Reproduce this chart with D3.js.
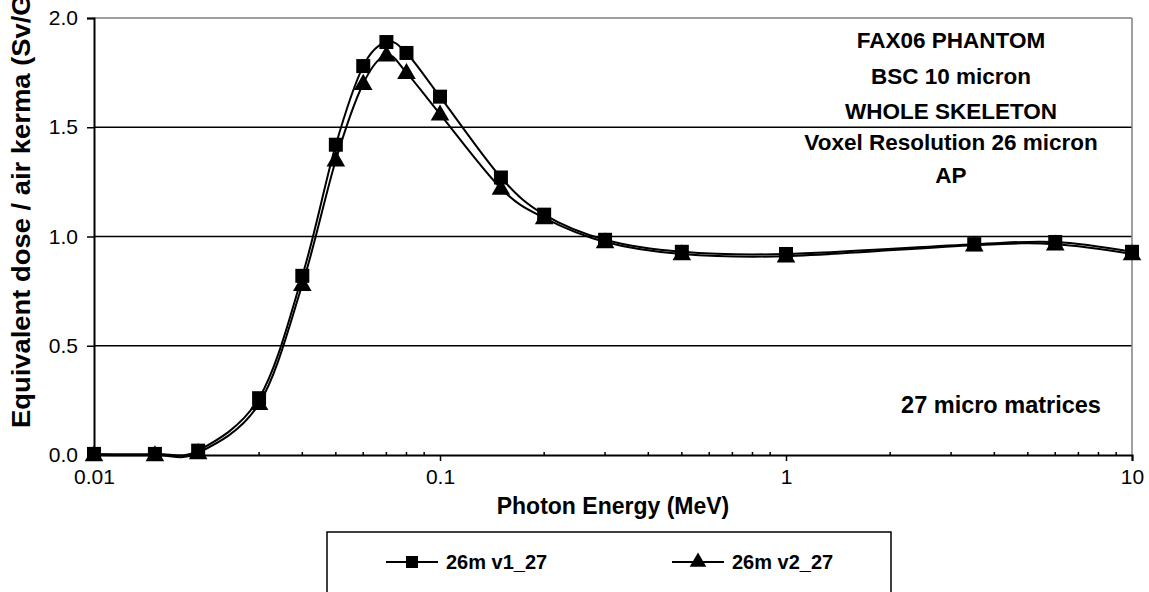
<!DOCTYPE html>
<html>
<head>
<meta charset="utf-8">
<script src="https://cdn.jsdelivr.net/npm/d3@7"></script>
<style>
  body { margin: 0; background: #fff; }
  svg text { font-family: "Liberation Sans", Arial, sans-serif; fill: #000; }
</style>
</head>
<body>
<div class="chart"></div>
<script>
// Données
const energies = [0.01, 0.015, 0.02, 0.03, 0.04, 0.05, 0.06, 0.07, 0.08, 0.1, 0.15, 0.2, 0.3, 0.5, 1, 3.5, 6, 10];
const v1 = [0.005, 0.005, 0.02, 0.26, 0.82, 1.42, 1.78, 1.89, 1.84, 1.64, 1.27, 1.10, 0.985, 0.93, 0.92, 0.965, 0.975, 0.93];
const v2 = [0.0, 0.0, 0.01, 0.235, 0.78, 1.35, 1.70, 1.83, 1.75, 1.56, 1.22, 1.085, 0.975, 0.92, 0.91, 0.96, 0.965, 0.92];
const seriesNames = ["26m v1_27", "26m v2_27"];
const yTicks = [0, 0.5, 1.0, 1.5, 2.0];
const xTicks = [0.01, 0.1, 1, 10];
const notes = ["FAX06 PHANTOM", "BSC 10 micron", "WHOLE SKELETON", "Voxel Resolution 26 micron", "AP"];

const W = 1149, H = 592;
const pLeft = 94, pRight = 1132, pTop = 18, pBottom = 455;

let svg = d3.select(".chart").append("svg")
    .attr("width", W)
    .attr("height", H);

let x = d3.scaleLog().domain([0.01, 10]).range([pLeft, pRight]);
let y = d3.scaleLinear().domain([0, 2]).range([pBottom, pTop]);

// grille horizontale
svg.append("g").selectAll("line")
    .data(yTicks.filter(d => d > 0))
    .join("line")
    .attr("x1", pLeft).attr("x2", pRight)
    .attr("y1", d => y(d)).attr("y2", d => y(d))
    .attr("stroke", d => d === 2 ? "#808080" : "#000")
    .attr("stroke-width", 1.5);

// bord droit gris
svg.append("line")
    .attr("x1", pRight).attr("x2", pRight)
    .attr("y1", pTop).attr("y2", pBottom)
    .attr("stroke", "#808080").attr("stroke-width", 1.5);

// axe Y
let yAxis = svg.append("g")
    .attr("transform", "translate(" + pLeft + ",0)")
    .call(d3.axisLeft(y).tickValues(yTicks).tickFormat(d3.format(".1f")).tickSize(7).tickPadding(9));
yAxis.select(".domain").attr("stroke", "#000").attr("stroke-width", 2);
yAxis.selectAll(".tick line").attr("stroke", "#000").attr("stroke-width", 1.5);
yAxis.selectAll("text").style("font-size", "21px");

// axe X (log) avec petites graduations vers l'intérieur
let minor = [];
[0.01, 0.1, 1].forEach(function (dec) {
    for (let k = 2; k <= 9; k++) minor.push(dec * k);
});
svg.append("g").selectAll("line")
    .data(minor)
    .join("line")
    .attr("x1", d => x(d)).attr("x2", d => x(d))
    .attr("y1", pBottom).attr("y2", pBottom - 3)
    .attr("stroke", "#000").attr("stroke-width", 1.5);

let xAxis = svg.append("g")
    .attr("transform", "translate(0," + pBottom + ")")
    .call(d3.axisBottom(x).tickValues(xTicks).tickFormat(d => String(d)).tickSize(6).tickPadding(8));
xAxis.select(".domain").attr("stroke", "#000").attr("stroke-width", 2);
xAxis.selectAll(".tick line").attr("stroke", "#000").attr("stroke-width", 1.5);
xAxis.selectAll("text").style("font-size", "21px");

// titres des axes
svg.append("text")
    .attr("x", (pLeft + pRight) / 2)
    .attr("y", 514)
    .attr("text-anchor", "middle")
    .style("font-size", "23px")
    .style("font-weight", "bold")
    .text("Photon Energy (MeV)");

svg.append("text")
    .attr("transform", "translate(30,428) rotate(-90)")
    .attr("text-anchor", "start")
    .attr("textLength", 458)
    .attr("lengthAdjust", "spacingAndGlyphs")
    .style("font-size", "26px")
    .style("font-weight", "bold")
    .text("Equivalent dose / air kerma (Sv/Gy)");

// courbes lissées
let line = d3.line()
    .x(d => x(d[0]))
    .y(d => y(d[1]))
    .curve(d3.curveCatmullRom.alpha(0));

let data1 = energies.map((e, i) => [e, v1[i]]);
let data2 = energies.map((e, i) => [e, v2[i]]);

[data1, data2].forEach(function (data) {
    svg.append("path")
        .attr("d", line(data))
        .attr("fill", "none")
        .attr("stroke", "#000")
        .attr("stroke-width", 2);
});

let squareSym = d3.symbol().type(d3.symbolSquare).size(196);
let triSym = d3.symbol().type(d3.symbolTriangle).size(150);

svg.append("g").selectAll("path")
    .data(data2)
    .join("path")
    .attr("d", triSym)
    .attr("transform", d => "translate(" + x(d[0]) + "," + (y(d[1]) + 1) + ")")
    .attr("fill", "#000");

svg.append("g").selectAll("path")
    .data(data1)
    .join("path")
    .attr("d", squareSym)
    .attr("transform", d => "translate(" + x(d[0]) + "," + y(d[1]) + ")")
    .attr("fill", "#000");

// annotations
let noteY = [48, 84, 119, 150, 183];
svg.append("g").selectAll("text")
    .data(notes)
    .join("text")
    .attr("x", 951)
    .attr("y", (d, i) => noteY[i])
    .attr("text-anchor", "middle")
    .style("font-size", "22.5px")
    .style("font-weight", "bold")
    .text(d => d);

svg.append("text")
    .attr("x", 1001)
    .attr("y", 413)
    .attr("text-anchor", "middle")
    .style("font-size", "23.5px")
    .style("font-weight", "bold")
    .text("27 micro matrices");

// légende
svg.append("rect")
    .attr("x", 327).attr("y", 532)
    .attr("width", 564).attr("height", 80)
    .attr("fill", "#fff")
    .attr("stroke", "#000").attr("stroke-width", 1.5);

let legendX = [412, 698];
let legendSym = [d3.symbol().type(d3.symbolSquare).size(144), d3.symbol().type(d3.symbolTriangle).size(120)];
seriesNames.forEach(function (name, i) {
    let cx = legendX[i];
    svg.append("line")
        .attr("x1", cx - 26).attr("x2", cx + 26)
        .attr("y1", 562).attr("y2", 562)
        .attr("stroke", "#000").attr("stroke-width", 2);
    svg.append("path")
        .attr("d", legendSym[i])
        .attr("transform", "translate(" + cx + ",562)")
        .attr("fill", "#000");
    svg.append("text")
        .attr("x", cx + 34)
        .attr("y", 569)
        .style("font-size", "20px")
        .style("font-weight", "bold")
        .text(name);
});
</script>
</body>
</html>
